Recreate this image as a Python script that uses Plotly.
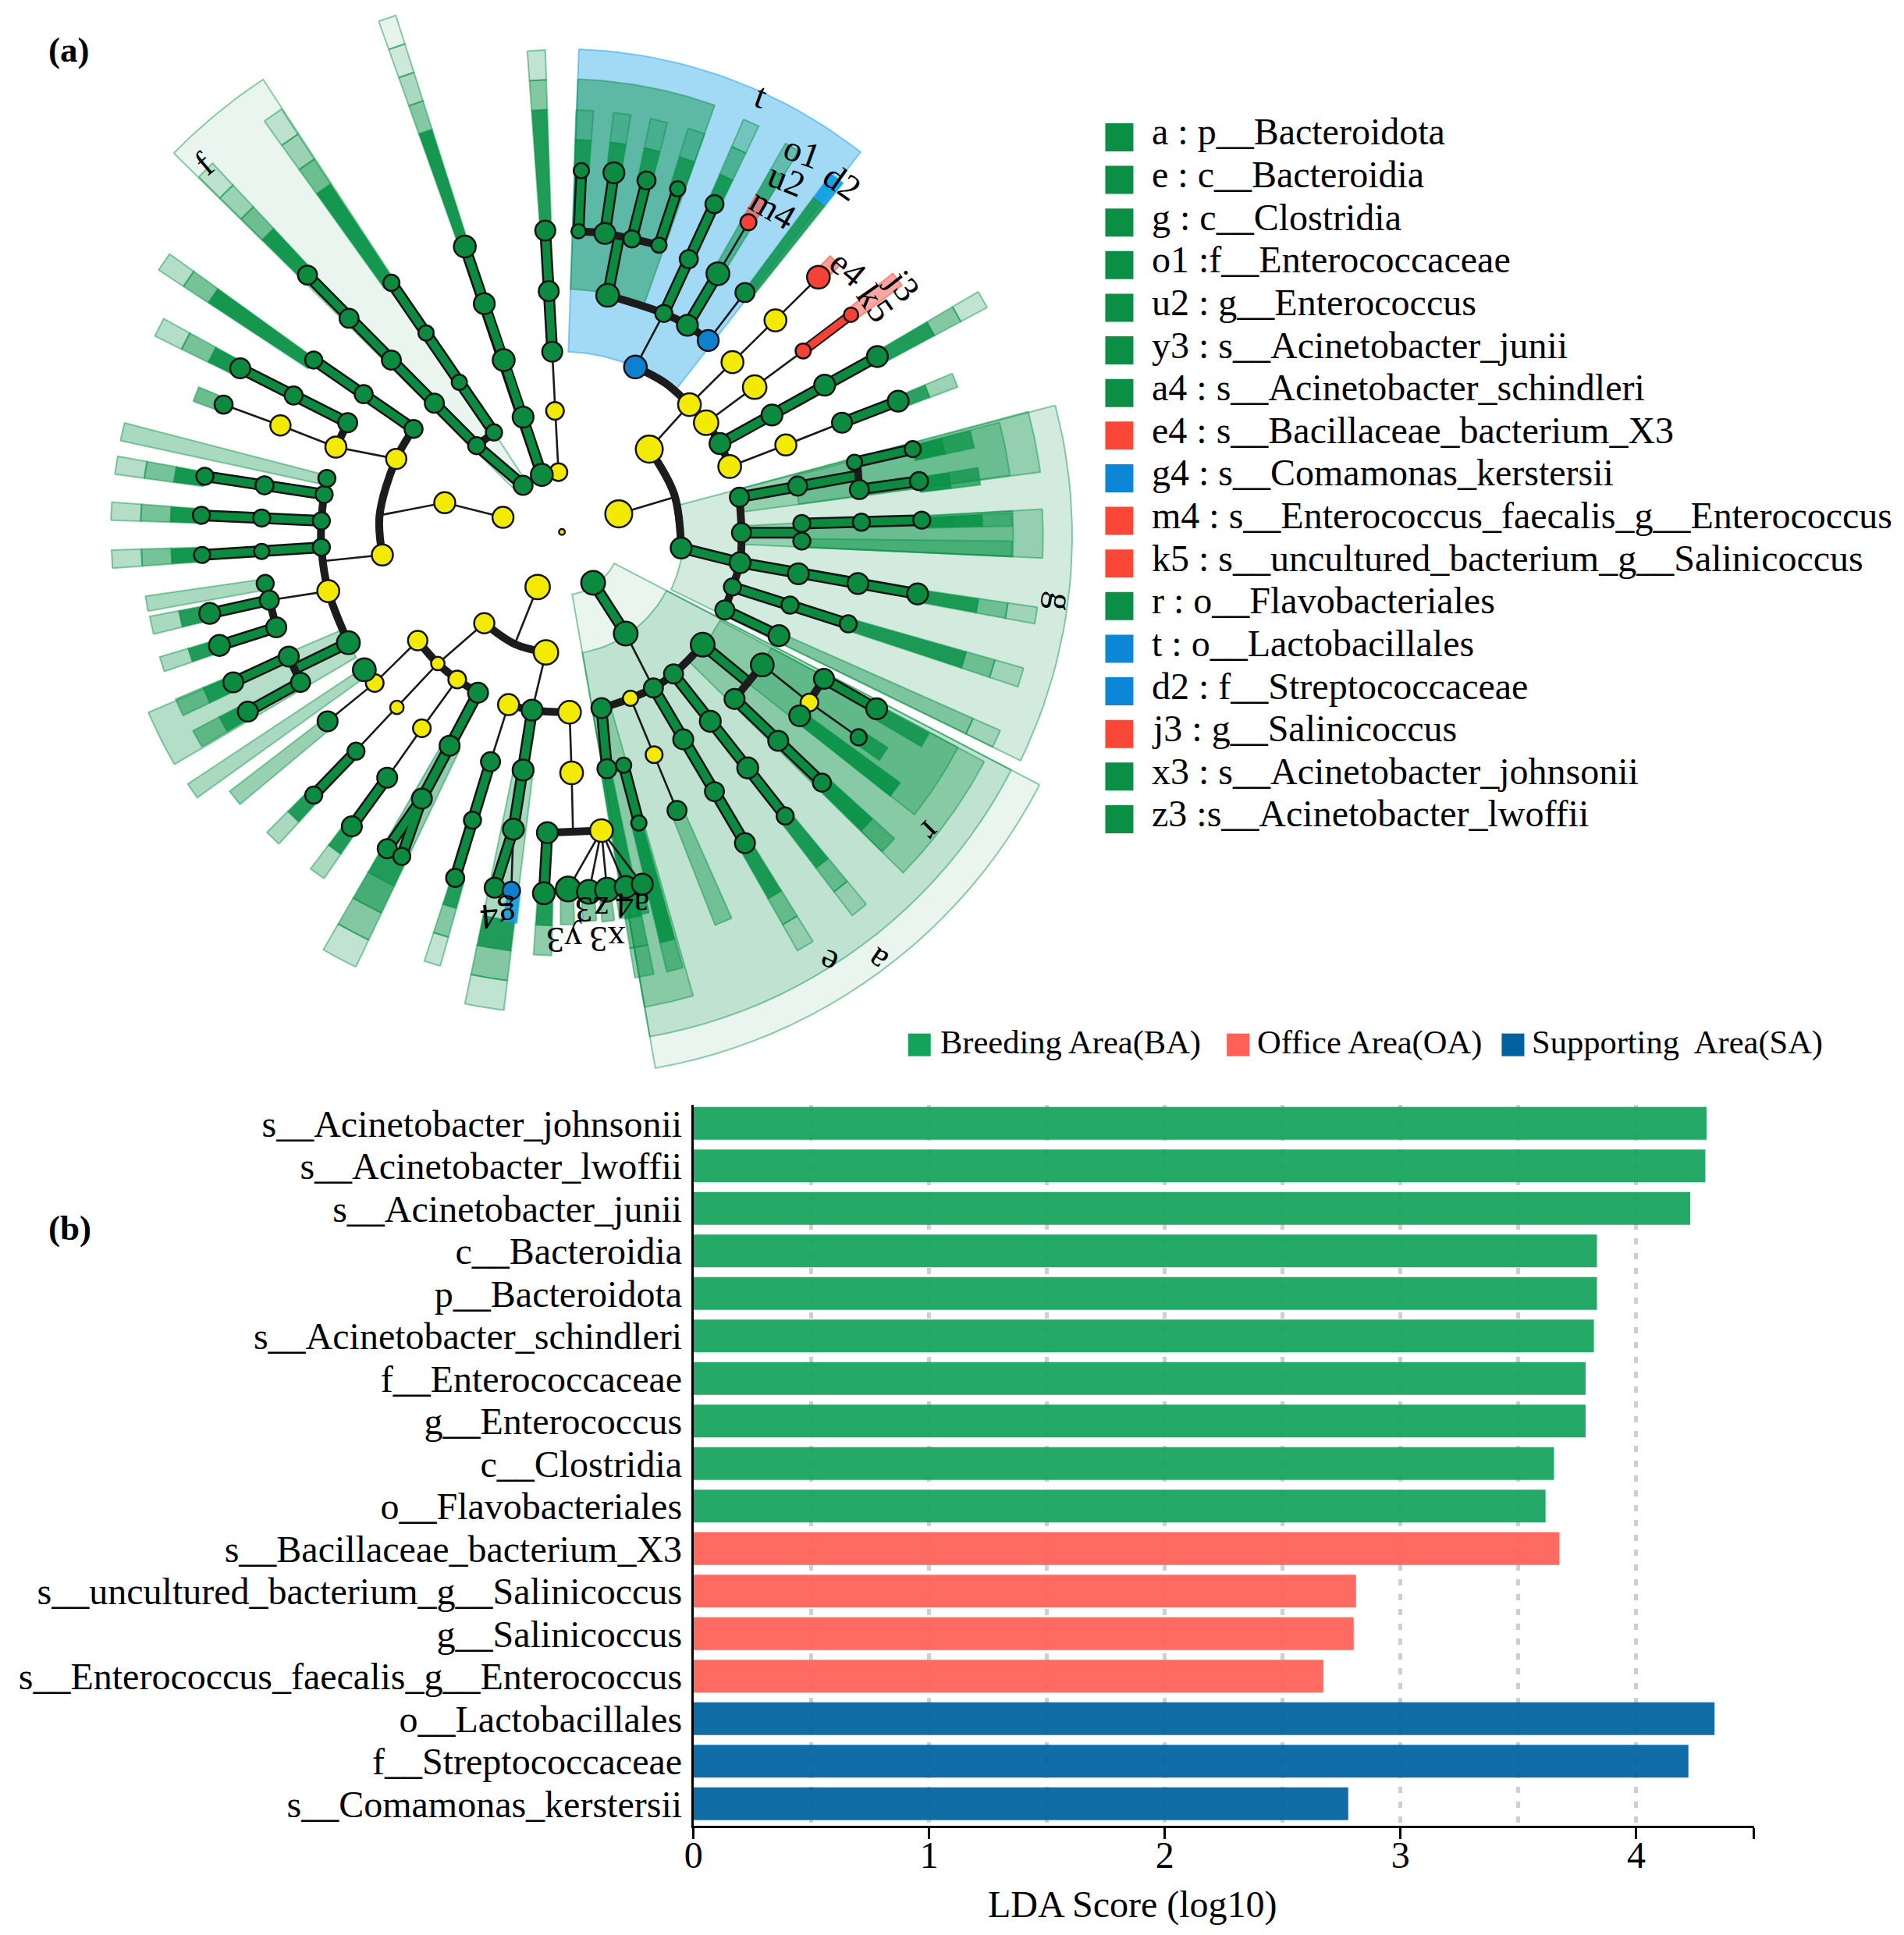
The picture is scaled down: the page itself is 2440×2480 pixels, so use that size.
import math
import plotly.graph_objects as go

# ---------- panel (b) data ----------
BA_NAMES = ["s__Acinetobacter_johnsonii", "s__Acinetobacter_lwoffii", "s__Acinetobacter_junii", "c__Bacteroidia",
            "p__Bacteroidota", "s__Acinetobacter_schindleri", "f__Enterococcaceae", "g__Enterococcus",
            "c__Clostridia", "o__Flavobacteriales"]
BA_SCORES = [4.298, 4.293, 4.229, 3.833, 3.833, 3.82, 3.785, 3.785, 3.651, 3.615]
OA_NAMES = ["s__Bacillaceae_bacterium_X3", "s__uncultured_bacterium_g__Salinicoccus", "g__Salinicoccus",
            "s__Enterococcus_faecalis_g__Enterococcus"]
OA_SCORES = [3.674, 2.811, 2.801, 2.673]
SA_NAMES = ["o__Lactobacillales", "f__Streptococcaceae", "s__Comamonas_kerstersii"]
SA_SCORES = [4.332, 4.221, 2.778]
AREA_LABELS = ["Breeding Area(BA)", "Office Area(OA)", "Supporting  Area(SA)"]

# ---------- panel (a) legend ----------
KEY_LABELS = ["a : p__Bacteroidota", "e : c__Bacteroidia", "g : c__Clostridia", "o1 :f__Enterococcaceae",
              "u2 : g__Enterococcus", "y3 : s__Acinetobacter_junii", "a4 : s__Acinetobacter_schindleri",
              "e4 : s__Bacillaceae_bacterium_X3", "g4 : s__Comamonas_kerstersii",
              "m4 : s__Enterococcus_faecalis_g__Enterococcus", "k5 : s__uncultured_bacterium_g__Salinicoccus",
              "r : o__Flavobacteriales", "t : o__Lactobacillales", "d2 : f__Streptococcaceae", "j3 : g__Salinicoccus",
              "x3 : s__Acinetobacter_johnsonii", "z3 :s__Acinetobacter_lwoffii"]
KEY_GROUPS = ["G", "G", "G", "G", "G", "G", "G", "R", "B", "R", "R", "G", "B", "B", "R", "G", "G"]

# ---------- cladogram, tree-space values ----------
# clade sectors: clock angle from, to, radius from, to, group, opacity
SECTORS = [
    (2, 38, 265, 700, "B", 0.38), (2, 19.6, 355, 657, "G", 0.45),
    (75.2, 116, 175, 736, "G", 0.18), (75.1, 82.4, 265, 696, "G", 0.3), (75.5, 82.3, 345, 652, "G", 0.3),
    (86.8, 92.6, 258, 694, "G", 0.3), (86.8, 92.6, 345, 651, "G", 0.3),
    (117.4, 170, 85, 776, "G", 0.09), (117.4, 170, 170, 730, "G", 0.18),
    (118, 134.5, 258, 690, "G", 0.3), (118, 128.2, 342, 647, "G", 0.3),
    (164, 170, 255, 687, "G", 0.3),
    (239.6, 247, 344, 648, "G", 0.3), (314.5, 326.7, 100, 785, "G", 0.09),
]
# strips: outer x, outer y, outer width, leaf x, leaf y, band opacities outer to inner, group of each band
STRIPS = [
    (769, 72, 26, 782, 331, [.25, .5, .9], "GGG"),
    (839, 158, 25, 834, 245, [.25, .8], "GG"), (893, 163, 25, 881, 248, [.25, .8], "GG"),
    (946, 173, 25, 928, 259, [.25, .8], "GG"), (1000, 188, 25, 973, 271, [.25, .8], "GG"),
    (1079, 176, 24, 1026, 293, [.3, .55, .9], "GGG"),
    (1138, 211, 22, 1031, 393, [.4, .7, .6, .55], "GGRG"),
    (1203, 256, 22, 1070, 420, [.9, .85], "BG"),
    (1200, 374, 20, 1176, 398, [.5], "R"),
    (1290, 401, 22, 1223, 452, [.45], "R"),
    (1413, 430, 26, 1261, 512, [.25, .5, .9], "GGG"),
    (1373, 546, 21, 1291, 576, [.4, .85], "GG"),
    (1398, 631, 25, 1312, 645, [.7, .95], "GG"), (1408, 684, 25, 1321, 691, [.7, .95], "GG"),
    (1455, 746, 19, 1325, 747, [.4, .9, .95], "GGG"), (1455, 788, 22, 1152, 777, [.35], "G"),
    (1490, 884, 24, 1319, 853, [.25, .5, .9], "GGG"), (1468, 973, 28, 1219, 896, [.25, .5, .9], "GGG"),
    (1433, 1061, 26, 1119, 913, [.25, .42], "GG"),
    (1330, 1063, 22, 1260, 1018, [.8], "G"), (1270, 1083, 22, 1234, 1059, [.8], "G"),
    (1287, 1134, 24, 1149, 1028, [.9], "G"), (1277, 1214, 26, 1181, 1124, [.5, .95], "GG"),
    (1235, 1307, 26, 1128, 1172, [.25, .5, .9], "GGG"), (1157, 1359, 26, 1070, 1211, [.25, .5, .9], "GGG"),
    (1039, 1324, 26, 972, 1164, [.42], "G"), (969, 1393, 24, 917, 1182, [.45, .95], "GG"),
    (925, 1402, 28, 871, 1104, [.45, .6, .9], "GGG"),
    (778, 1372, 26, 780, 1283, [.45, .9], "GG"),
    (814, 1328, 20, 815, 1277, [.5], "G"), (846, 1323, 20, 845, 1281, [.5], "G"),
    (873, 1323, 18, 871, 1278, [.5], "G"), (898, 1318, 18, 898, 1274, [.5], "G"), (923, 1313, 18, 922, 1270, [.7], "G"),
    (694, 1447, 57, 736, 1107, [.25, .5, .9, .35], "GGGG"), (731, 1325, 20, 733, 1279, [.85], "B"),
    (619, 1384, 24, 652, 1261, [.25, .5, .9], "GGG"),
    (485, 1377, 53, 644, 1071, [.25, .5, .75, .9, .45], "GGGGG"),
    (453, 1255, 24, 503, 1187, [.35, .9], "GG"), (389, 1204, 24, 448, 1142, [.35, .9], "GG"),
    (334, 1146, 24, 468, 1036, [.42], "G"), (273, 1136, 24, 521, 962, [.35], "G"),
    (254, 1016, 26, 332, 980, [.5, .9], "GG"), (280, 1061, 26, 353, 1022, [.5, .9], "GG"),
    (229, 954, 22, 312, 927, [.35, .9], "GG"), (214, 898, 26, 298, 881, [.35, .9], "GG"), (207, 867, 22, 378, 838, [.35], "G"),
    (157, 803, 26, 287, 797, [.3, .55, .95], "GGG"), (156, 734, 26, 286, 740, [.3, .55, .95], "GGG"),
    (163, 668, 26, 291, 684, [.3, .55, .95], "GGG"), (172, 620, 26, 467, 687, [.35], "G"),
    (278, 566, 22, 318, 581, [.6], "G"),
    (225, 470, 28, 342, 529, [.3, .55, .95], "GGG"), (232, 376, 28, 448, 517, [.3, .55, .95], "GGG"),
    (292, 244, 28, 439, 395, [.2, .35, .55, .95], "GGGG"), (389, 165, 30, 560, 406, [.2, .35, .55, .95], "GGGG"),
    (554, 26, 26, 666, 354, [.1, .2, .35, .5, .95], "GGGGG"),
]
THIN_EDGES = [
    [(888, 738), (968, 714)], [(932, 645), (990, 581)], [(912, 527), (953, 450)], [(1031, 393), (1075, 319)],
    [(1017, 489), (1070, 420)], [(990, 581), (1052, 520), (1114, 460), (1176, 398)],
    [(1014, 607), (1084, 556), (1154, 504)], [(1048, 670), (1129, 639), (1210, 607)],
    [(898, 910), (938, 988)], [(1095, 955), (1163, 1009), (1234, 1059)], [(905, 1003), (939, 1084), (972, 1164)],
    [(771, 843), (738, 925)], [(783, 937), (763, 1020)], [(736, 1191), (733, 1279)], [(729, 1012), (703, 1094)],
    [(817, 1023), (820, 1110), (822, 1196)], [(863, 1193), (815, 1277)], [(863, 1193), (845, 1281)],
    [(863, 1193), (871, 1278)], [(863, 1193), (898, 1274)], [(863, 1193), (922, 1270)],
    [(694, 895), (627, 953)], [(598, 920), (536, 981), (468, 1036)], [(627, 953), (568, 1016), (508, 1079)],
    [(655, 976), (604, 1046), (554, 1117)], [(469, 849), (384, 862)], [(547, 797), (460, 806)],
    [(567, 659), (480, 642), (400, 611), (318, 581)], [(543, 740), (637, 722), (721, 743)],
    [(801, 678), (796, 590), (792, 505)],
]
GREEN_EDGES = [
    [(872, 424), (888, 342)], [(830, 332), (834, 245)], [(868, 335), (881, 248)], [(907, 343), (928, 259)],
    [(946, 352), (973, 271)], [(953, 450), (989, 372), (1026, 293)], [(987, 467), (1031, 393)],
    [(1034, 637), (1109, 596), (1185, 553), (1261, 512)], [(1210, 607), (1291, 576)],
    [(978, 787), (1063, 808)], [(1062, 714), (1147, 698), (1232, 683)], [(1228, 664), (1312, 645)], [(1235, 703), (1321, 691)],
    [(1065, 765), (1152, 765)], [(1152, 752), (1238, 750), (1325, 747)], [(1063, 808), (1147, 824), (1233, 838), (1319, 853)],
    [(1052, 843), (1135, 869), (1219, 896)], [(1041, 876), (1119, 913)],
    [(851, 837), (898, 910)], [(1009, 926), (1075, 980)], [(1184, 975), (1260, 1018)],
    [(1055, 1004), (1118, 1064), (1181, 1124)], [(967, 968), (1020, 1036), (1074, 1103), (1128, 1172)],
    [(938, 988), (981, 1062), (1026, 1137), (1070, 1211)], [(863, 1017), (871, 1104)], [(895, 1099), (917, 1182)],
    [(763, 1020), (750, 1106), (736, 1191), (709, 1275)], [(703, 1094), (677, 1178), (652, 1261)],
    [(785, 1196), (780, 1283)], [(509, 1079), (448, 1142)], [(554, 1117), (503, 1187)],
    [(685, 995), (644, 1071), (604, 1147), (554, 1219)], [(604, 1147), (575, 1230)],
    [(498, 923), (420, 961)], [(412, 943), (332, 980)], [(429, 980), (353, 1022)],
    [(384, 862), (298, 881)], [(394, 901), (312, 927)], [(459, 786), (373, 792), (287, 797)],
    [(459, 748), (373, 744), (286, 740)], [(463, 710), (377, 697), (291, 684)],
    [(497, 607), (419, 568), (342, 529)], [(592, 616), (520, 566), (448, 517)],
    [(750, 697), (683, 640), (622, 579), (560, 517), (499, 457), (439, 395)], [(708, 621), (658, 549), (610, 478), (560, 406)],
    [(777, 682), (750, 599), (722, 517), (694, 436), (666, 354)], [(792, 505), (787, 418), (782, 331)],
]
RED_EDGE = [(1154, 504), (1223, 452)]
BLACK_ARCS = [
    [(932, 645), (968, 710), (978, 787)], [(912, 527), (955, 550), (990, 581), (1014, 607), (1034, 637), (1048, 670)],
    [(872, 424), (953, 450), (987, 467), (1017, 489)], [(830, 332), (868, 335), (907, 343), (946, 352)],
    [(1062, 714), (1065, 765), (1063, 808), (1052, 843), (1041, 876)], [(1232, 664), (1235, 703)], [(1152, 752), (1152, 777)],
    [(863, 1017), (905, 1003), (938, 988), (967, 968), (1009, 926)], [(1095, 955), (1055, 1004)], [(1184, 975), (1149, 1028)],
    [(871, 1104), (895, 1099)], [(694, 895), (738, 925), (783, 937)], [(729, 1012), (763, 1020), (817, 1023)],
    [(785, 1196), (863, 1193)], [(598, 920), (627, 953), (655, 976), (685, 995)],
    [(412, 943), (429, 980)], [(378, 838), (384, 862), (394, 901)], [(467, 687), (463, 710), (459, 748), (459, 786), (469, 849), (498, 923)],
    [(547, 797), (543, 740), (567, 659), (592, 616)], [(480, 642), (497, 607)], [(683, 640), (708, 621)],
]
NODES_YELLOW = [(888, 738, 32), (932, 645, 32), (990, 581, 27), (1014, 607, 29), (1048, 670, 27), (1052, 520, 26), (1114, 460, 26),
                (1084, 556, 28), (1129, 639, 25), (905, 1003, 18), (939, 1084, 20), (1163, 1009, 21), (771, 843, 29), (694, 895, 24),
                (783, 937, 29), (729, 1012, 25), (817, 1023, 27), (820, 1110, 27), (863, 1193, 27), (598, 920, 23), (627, 953, 16),
                (655, 976, 21), (536, 981, 21), (568, 1016, 16), (604, 1046, 21), (469, 849, 26), (547, 797, 25), (567, 659, 24),
                (480, 642, 25), (400, 611, 24), (637, 722, 25), (721, 743, 25), (801, 678, 21), (796, 590, 21), (806, 764, 7)]
NODES_GREEN = [(872, 424, 24), (830, 332, 15), (868, 335, 22), (907, 343, 18), (946, 352, 16), (834, 245, 16), (881, 248, 22), (928, 259, 19),
               (973, 271, 16), (953, 450, 18), (987, 467, 22), (989, 372, 19), (1026, 293, 19), (1031, 393, 24), (1070, 420, 20),
               (1034, 637, 22), (1109, 596, 22), (1185, 553, 22), (1261, 512, 22), (1210, 607, 21), (1291, 576, 22),
               (978, 787, 22), (1062, 714, 20), (1065, 765, 20), (1063, 808, 22), (1052, 843, 18), (1041, 876, 20),
               (1146, 698, 20), (1228, 664, 16), (1235, 703, 20), (1312, 645, 17), (1321, 691, 19), (1152, 752, 18), (1152, 777, 18),
               (1238, 750, 18), (1325, 747, 18), (1147, 824, 22), (1233, 838, 22), (1319, 853, 22), (1135, 869, 18), (1219, 896, 18),
               (1119, 913, 22), (851, 837, 25), (898, 910, 25), (1009, 926, 25), (967, 968, 20), (938, 988, 20), (863, 1017, 21),
               (1095, 955, 24), (1055, 1004, 21), (1184, 975, 21), (1149, 1028, 22), (1260, 1018, 22), (1234, 1059, 17),
               (1118, 1064, 21), (1181, 1124, 19), (1020, 1036, 22), (1074, 1103, 22), (1128, 1172, 18), (981, 1062, 21),
               (1026, 1137, 20), (1070, 1211, 21), (972, 1164, 20), (871, 1104, 20), (895, 1099, 16), (917, 1182, 16),
               (763, 1020, 22), (750, 1106, 22), (736, 1191, 22), (709, 1275, 21), (703, 1094, 20), (677, 1178, 18), (652, 1261, 19),
               (785, 1196, 22), (780, 1283, 23), (815, 1277, 26), (845, 1281, 25), (871, 1278, 25), (898, 1274, 23), (922, 1270, 22),
               (509, 1079, 18), (448, 1142, 18), (554, 1117, 21), (503, 1187, 21), (685, 995, 21), (644, 1071, 21), (604, 1147, 21),
               (554, 1219, 20), (575, 1230, 18), (521, 962, 24), (468, 1036, 21), (498, 923, 24), (412, 943, 21), (429, 980, 20),
               (332, 980, 21), (353, 1022, 21), (378, 838, 18), (384, 862, 20), (394, 901, 21), (298, 881, 22), (312, 927, 22),
               (459, 786, 18), (373, 792, 16), (287, 797, 17), (459, 748, 18), (373, 744, 18), (286, 740, 18), (463, 710, 18),
               (377, 697, 19), (291, 684, 18), (467, 687, 18), (497, 607, 20), (419, 568, 19), (342, 529, 21), (318, 581, 19),
               (592, 616, 19), (520, 566, 19), (448, 517, 18), (750, 697, 20), (683, 640, 18), (622, 579, 20), (560, 517, 20),
               (499, 457, 20), (439, 395, 20), (708, 621, 17), (658, 549, 16), (610, 478, 16), (560, 406, 17), (777, 682, 23),
               (750, 599, 22), (722, 517, 23), (694, 436, 22), (666, 354, 23), (792, 505, 21), (787, 418, 21), (782, 331, 21)]
NODES_RED = [(1176, 398, 27), (1154, 504, 18), (1223, 452, 17), (1075, 319, 19)]
NODES_BLUE = [(912, 527, 26), (1017, 489, 24), (733, 1279, 20)]
CLADE_TAGS = [("t", 1093, 137, 20), ("a", 1260, 1380, 215), ("e", 1190, 1383, 205), ("f", 290, 235, -40), ("g", 1525, 865, 100),
              ("r", 1338, 1195, 135), ("o1", 1152, 218, 20), ("u2", 1130, 258, 22), ("m4", 1110, 300, 30), ("d2", 1210, 262, 35),
              ("e4", 1218, 385, 40), ("j3", 1298, 410, 52), ("k5", 1258, 435, 55), ("g4", 714, 1316, 175), ("y3", 810, 1350, 180),
              ("x3", 872, 1348, 180), ("z3", 850, 1306, 180), ("a4", 908, 1300, 180)]

SERIF = "Liberation Serif"
PALETTE = {"G": (8, 145, 70), "R": (250, 60, 45), "B": (10, 155, 225)}
CX, CY, BAND = 806.0, 770.0, 43.0
U = 1.12  # tree-space units per page pixel
W, H = 2440, 2480


def rgba(g, a):
    r_, g_, b_ = PALETTE[g]
    return f"rgba({r_},{g_},{b_},{a})"


def sector(a0, a1, r0, r1):
    n = 24
    ang = [math.radians(a0 + (a1 - a0) * i / n) for i in range(n + 1)]
    xs = [CX + r1 * math.sin(a) for a in ang] + [CX + r0 * math.sin(a) for a in reversed(ang)]
    ys = [CY - r1 * math.cos(a) for a in ang] + [CY - r0 * math.cos(a) for a in reversed(ang)]
    return xs + xs[:1], ys + ys[:1]


fig = go.Figure()
common = dict(hoverinfo="skip", showlegend=False)


def add_sector(a0, a1, r0, r1, g, alpha):
    xs, ys = sector(a0, a1, r0, r1)
    fig.add_trace(go.Scatter(x=xs, y=ys, mode="lines", fill="toself", fillcolor=rgba(g, alpha),
                             line=dict(color=rgba(g, 0.45), width=2), **common))


for a0, a1, r0, r1, g, al in SECTORS:
    add_sector(a0, a1, r0, r1, g, al)

for ox, oy, w_, lx, ly, alphas, groups in STRIPS:
    ang = math.degrees(math.atan2(ox - CX, -(oy - CY)))
    R = math.hypot(ox - CX, oy - CY)
    half = math.degrees(w_ / 2 / R)
    rin = math.hypot(lx - CX, ly - CY)
    top = R
    for i, (al, g) in enumerate(zip(alphas, groups)):
        bot = rin if i == len(alphas) - 1 else max(rin, top - BAND)
        add_sector(ang - half, ang + half, bot, top, g, al)
        top = bot


def line_trace(paths, color, width, shape="linear"):
    xs, ys = [], []
    for p in paths:
        xs += [q[0] for q in p] + [None]
        ys += [q[1] for q in p] + [None]
    fig.add_trace(go.Scatter(x=xs, y=ys, mode="lines", line=dict(color=color, width=width, shape=shape), **common))


line_trace(THIN_EDGES, "#1a1a1a", 2.6)
line_trace(GREEN_EDGES, "#141414", 15)
line_trace(GREEN_EDGES, "#0b8a40", 10)
line_trace([RED_EDGE], "#141414", 13)
line_trace([RED_EDGE], "#f44336", 9)
for arc in BLACK_ARCS:
    line_trace([arc], "#1c1c1c", 10, "spline" if len(arc) > 2 else "linear")

for nodes, col, k in [(NODES_YELLOW, "#f2ea00", 1.08), (NODES_GREEN, "#0b8a40", 1.22), (NODES_RED, "#f44336", 1.08), (NODES_BLUE, "#0f7fd0", 1.12)]:
    fig.add_trace(go.Scatter(x=[n[0] for n in nodes], y=[n[1] for n in nodes], mode="markers",
                             marker=dict(size=[n[2] * k for n in nodes], color=col, opacity=1,
                                         line=dict(color="#141414", width=2.5)), **common))

# colour keys
KEY_COL = {"G": "#0a8f45", "R": "#fb4737", "B": "#0d86d8"}
for i, g in enumerate(KEY_GROUPS):
    y_px = 128 + (79 + 90.2 * i) / 1.65
    fig.add_trace(go.Scatter(x=[1437.5 * U], y=[y_px * U], mode="markers",
                             marker=dict(symbol="square", size=36, color=KEY_COL[g]), **common))

AREA_COL = ["#14A35A", "#FF5F56", "#00629F"]
for name, col, sx in zip(AREA_LABELS, AREA_COL, [1180, 1590.5, 1944.5]):
    fig.add_trace(go.Scatter(x=[sx * U], y=[1340 * U], mode="markers",
                             marker=dict(symbol="square", size=29, color=col), **common))

# LDA bars
names = BA_NAMES + OA_NAMES + SA_NAMES
for nm, sc, col in [(BA_NAMES, BA_SCORES, AREA_COL[0]), (OA_NAMES, OA_SCORES, AREA_COL[1]), (SA_NAMES, SA_SCORES, AREA_COL[2])]:
    fig.add_trace(go.Bar(x=sc, y=nm, orientation="h", width=0.77, marker=dict(color=col, line=dict(width=0), opacity=0.93),
                         xaxis="x2", yaxis="y2", showlegend=False, hoverinfo="skip"))

ann = []
for lab, x, y, rot in CLADE_TAGS:
    ann.append(dict(text=lab, x=x, y=y, xref="x", yref="y", showarrow=False, textangle=rot,
                    font=dict(family=SERIF, size=46, color="black")))
for i, lab in enumerate(KEY_LABELS):
    y_px = 121 + (79 + 90.2 * i) / 1.65
    ann.append(dict(text=lab, x=1477 * U, y=y_px * U, xref="x", yref="y", xanchor="left", showarrow=False,
                    font=dict(family=SERIF, size=48, color="black")))
for lab, sx in zip(AREA_LABELS, [1205, 1613, 1967]):
    ann.append(dict(text=lab.replace("  ", "\u00a0 "), x=sx * U, y=1337 * U, xref="x", yref="y", xanchor="left", showarrow=False,
                    font=dict(family=SERIF, size=42.5, color="black")))
ann.append(dict(text="LDA Score (log10)", x=1454.5 * U, y=2443 * U, xref="x", yref="y", showarrow=False,
                font=dict(family=SERIF, size=48, color="black")))
ann.append(dict(text="<b>(a)</b>", x=84 * U, y=64 * U, xref="x", yref="y", showarrow=False,
                font=dict(family=SERIF, size=45, color="black")))
ann.append(dict(text="<b>(b)</b>", x=86 * U, y=1575 * U, xref="x", yref="y", showarrow=False,
                font=dict(family=SERIF, size=45, color="black")))

GRID = "rgba(195,195,195,0.8)"
fig.update_layout(
    width=W, height=H, margin=dict(l=0, r=0, t=0, b=0), paper_bgcolor="white", plot_bgcolor="rgba(0,0,0,0)",
    showlegend=False, barmode="overlay", annotations=ann,
    xaxis=dict(domain=[0, 1], range=[9, W * U + 9], visible=False, fixedrange=True),
    yaxis=dict(domain=[0, 1], range=[H * U + 2, 2], visible=False, fixedrange=True),
    xaxis2=dict(domain=[881 / W, 2247 / W], range=[0, 4.5], anchor="y2", tickmode="array",
                tickvals=[0, 1, 2, 3, 4, 4.5], ticktext=["0", "1", "2", "3", "4", ""], ticks="outside", ticklen=14,
                tickwidth=3, tickcolor="black", showline=True, linecolor="black", linewidth=3, ticklabelstandoff=-21,
                tickfont=dict(family=SERIF, size=48, color="black"), showgrid=True, gridcolor=GRID, gridwidth=5,
                griddash="8px,11px", zeroline=False,
                minor=dict(tickmode="array", tickvals=[0.5, 1.5, 2.5, 3.5], showgrid=True, gridcolor=GRID, gridwidth=5,
                           griddash="8px,11px", ticks="")),
    yaxis2=dict(domain=[1 - 2340 / H, 1 - 1415 / H], type="category", categoryorder="array", categoryarray=names,
                range=[16.52, -0.44], anchor="x2", showline=True, linecolor="black", linewidth=3, ticks="", showgrid=False,
                tickmode="array", tickvals=names, ticktext=names, ticklabelstandoff=2,
                tickfont=dict(family=SERIF, size=48, color="black")),
)
fig.write_html("out.html", config={"displayModeBar": False}, post_script="document.body.style.margin='0';")
